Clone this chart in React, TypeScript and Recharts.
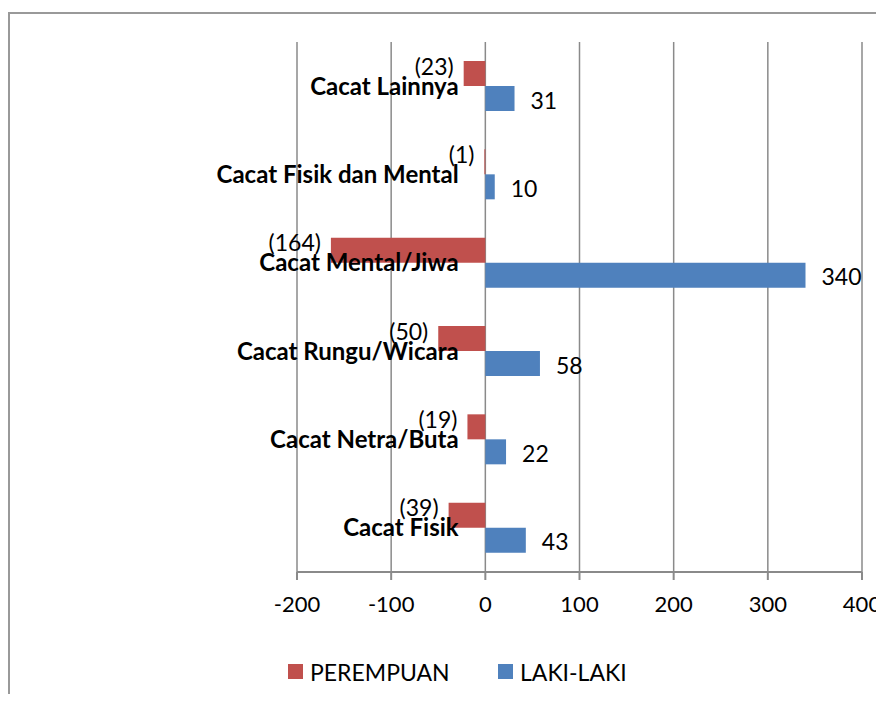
import React from 'react';
import { BarChart, Bar, XAxis, YAxis, CartesianGrid, LabelList, Legend } from 'recharts';

const CATEGORIES = [
  'Cacat Lainnya',
  'Cacat Fisik dan Mental',
  'Cacat Mental/Jiwa',
  'Cacat Rungu/Wicara',
  'Cacat Netra/Buta',
  'Cacat Fisik',
];
const PEREMPUAN = [23, 1, 164, 50, 19, 39];
const LAKI_LAKI = [31, 10, 340, 58, 22, 43];
const X_TICKS = [-200, -100, 0, 100, 200, 300, 400];

const COLORS = { perempuan: '#c0504d', laki: '#4f81bd' };
const GRID = '#8a8a8a';
const FONT = 'Lato, "Noto Sans", sans-serif';

const W = 868;
const H = 690;
const MARGIN = { top: 34, right: 14, left: 288, bottom: 58 };
const X_MIN = -200;
const X_MAX = 400;

// female shown to the left of zero
const data = CATEGORIES.map((name, i) => ({
  name,
  perempuan: -PEREMPUAN[i],
  laki: LAKI_LAKI[i],
}));

// category labels sit just left of the zero line, like the Excel original
const zeroX = MARGIN.left + ((0 - X_MIN) / (X_MAX - X_MIN)) * (W - MARGIN.left - MARGIN.right);

const renderCategoryTick = (props: any) => {
  const { y, payload } = props;
  return (
    <text
      key={payload.value}
      x={zeroX - 26}
      y={y}
      dy="0.35em"
      textAnchor="end"
      fontFamily={FONT}
      fontWeight={700}
      fontSize={24}
      fill="#000"
    >
      {payload.value}
    </text>
  );
};

const FemaleLabel = (props: any) => {
  const { x, y, width, height, value } = props;
  const left = Math.min(x, x + width);
  return (
    <text
      x={left - 10}
      y={y + height / 2 - 7}
      dy="0.35em"
      textAnchor="end"
      fontFamily={FONT}
      fontSize={23}
      fill="#000"
    >
      ({Math.abs(value)})
    </text>
  );
};

const MaleLabel = (props: any) => {
  const { x, y, width, height, value } = props;
  const right = Math.max(x, x + width);
  return (
    <text
      x={right + 16}
      y={y + height / 2 + 2}
      dy="0.35em"
      textAnchor="start"
      fontFamily={FONT}
      fontSize={23}
      fill="#000"
    >
      {value}
    </text>
  );
};

const LegendContent = () => (
  <div style={{ position: 'relative', height: 28, fontFamily: FONT, fontSize: 23, color: '#000' }}>
    <div style={{ position: 'absolute', left: 280, top: 4, width: 15, height: 15, background: COLORS.perempuan }} />
    <span style={{ position: 'absolute', left: 302, top: -2, lineHeight: '28px' }}>PEREMPUAN</span>
    <div style={{ position: 'absolute', left: 490, top: 4, width: 15, height: 15, background: COLORS.laki }} />
    <span style={{ position: 'absolute', left: 512, top: -2, lineHeight: '28px' }}>LAKI-LAKI</span>
  </div>
);

export default function App() {
  return (
    <div style={{ position: 'relative', width: W, height: H }}>
      <style>{'.recharts-surface { overflow: visible; }'}</style>
      <div
        style={{
          position: 'absolute',
          left: 0,
          top: 4,
          width: W,
          height: H - 10,
          borderLeft: '2px solid #999',
          borderTop: '2px solid #999',
        }}
      />
      <BarChart
        width={W}
        height={H}
        data={data}
        layout="vertical"
        margin={MARGIN}
        barSize={25}
        barGap={0}
        style={{ position: 'absolute', left: 0, top: 0 }}
      >
        <CartesianGrid horizontal={false} stroke={GRID} strokeWidth={1.5} />
        <XAxis
          type="number"
          domain={[X_MIN, X_MAX]}
          ticks={X_TICKS}
          interval={0}
          tickSize={8}
          tickMargin={16}
          axisLine={{ stroke: GRID, strokeWidth: 2 }}
          tickLine={{ stroke: GRID, strokeWidth: 2 }}
          tick={{ fontFamily: FONT, fontSize: 22, fill: '#000' }}
          height={40}
        />
        <YAxis
          type="category"
          dataKey="name"
          width={1}
          axisLine={false}
          tickLine={false}
          tick={renderCategoryTick}
          interval={0}
        />
        <Legend
          verticalAlign="bottom"
          content={<LegendContent />}
          wrapperStyle={{ left: 0, top: 652, width: W }}
        />
        <Bar dataKey="perempuan" name="PEREMPUAN" fill={COLORS.perempuan} isAnimationActive={false}>
          <LabelList dataKey="perempuan" content={<FemaleLabel />} />
        </Bar>
        <Bar dataKey="laki" name="LAKI-LAKI" fill={COLORS.laki} isAnimationActive={false}>
          <LabelList dataKey="laki" content={<MaleLabel />} />
        </Bar>
      </BarChart>
    </div>
  );
}
